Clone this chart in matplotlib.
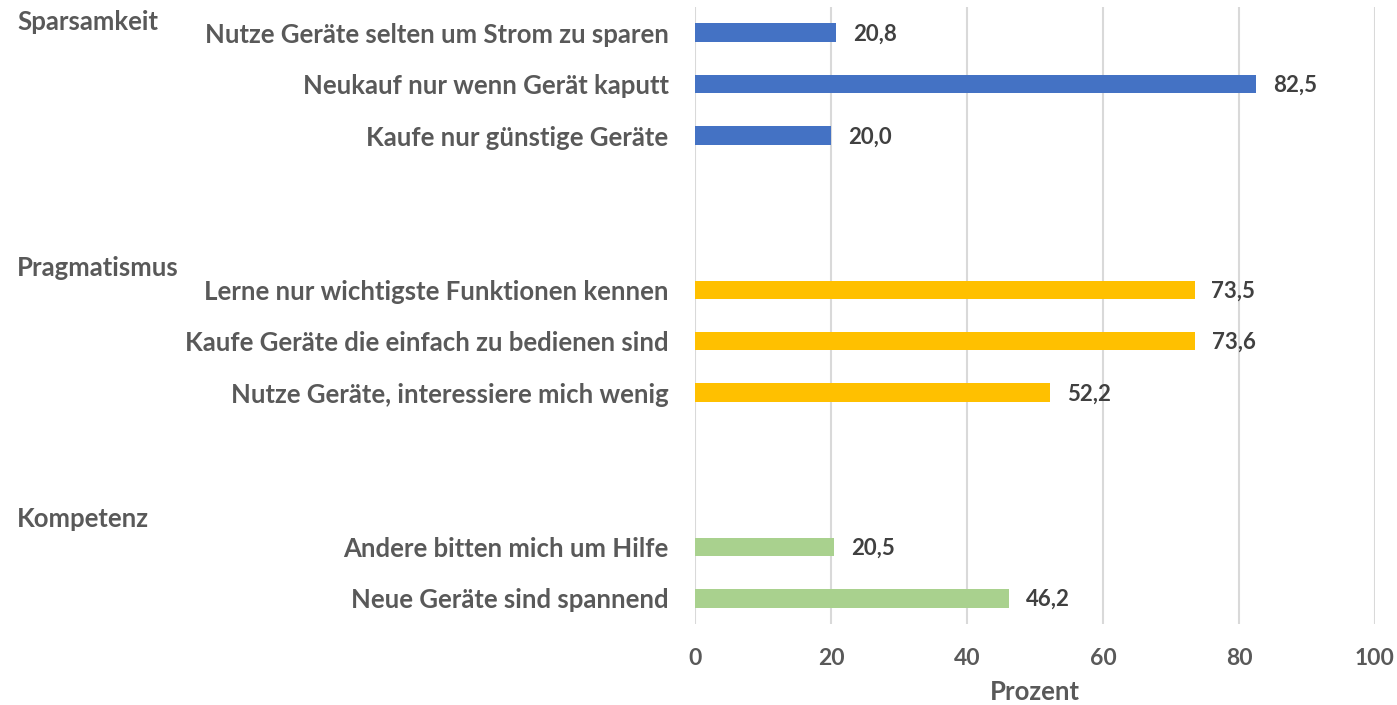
import matplotlib
matplotlib.use('Agg')
from matplotlib import pyplot as plt
import matplotlib.transforms as mtransforms

# group names and their items / values
groups = ['Sparsamkeit', 'Pragmatismus', 'Kompetenz']
items = [
    ['Nutze Geräte selten um Strom zu sparen',
     'Neukauf nur wenn Gerät kaputt',
     'Kaufe nur günstige Geräte'],
    ['Lerne nur wichtigste Funktionen kennen',
     'Kaufe Geräte die einfach zu bedienen sind',
     'Nutze Geräte, interessiere mich wenig'],
    ['Andere bitten mich um Hilfe',
     'Neue Geräte sind spannend'],
]
values = [
    [20.8, 82.5, 20.0],
    [73.5, 73.6, 52.2],
    [20.5, 46.2],
]
colors = ['#4472C4', '#FFC000', '#A9D18E']
# vertical offset of the group heading relative to its first bar (in rows)
header_offsets = [-0.21, -0.43, -0.55]

text_gray = '#595959'
plt.rcParams['font.family'] = ['Lato', 'DejaVu Sans']
plt.rcParams['font.weight'] = 'bold'

fig = plt.figure(figsize=(13.97, 7.05), dpi=100)
ax = fig.add_axes([695 / 1397, 1 - 624 / 705, 680 / 1397, 617 / 705])

ypos, ylabels = [], []
for g, (names, vals) in enumerate(zip(items, values)):
    start = 5 * g
    pos = [start + i for i in range(len(vals))]
    ax.barh(pos, vals, height=0.36, color=colors[g], zorder=3)
    for p, v in zip(pos, vals):
        ax.annotate(f'{v:.1f}'.replace('.', ','), xy=(v, p), xytext=(12, -1),
                    textcoords='offset points', va='center', ha='left',
                    fontsize=16, fontweight='bold', color='#404040')
    ypos += pos
    ylabels += names
    trans = mtransforms.blended_transform_factory(fig.transFigure, ax.transData)
    ax.text(17 / 1397, start + header_offsets[g], groups[g], transform=trans,
            ha='left', va='center', fontsize=18.5, fontweight='bold',
            color=text_gray)

ax.set_ylim(11.5, -0.5)
ax.set_xlim(0, 100)
ax.set_yticks(ypos)
ax.set_yticklabels(ylabels, fontsize=18.5, fontweight='bold', color=text_gray)
ax.set_xticks(range(0, 101, 20))
ax.tick_params(axis='x', labelsize=16.5, labelcolor=text_gray, length=0, pad=17)
ax.tick_params(axis='y', length=0, pad=19)
ax.grid(axis='x', color='#D9D9D9', linewidth=1.5, zorder=0)
for s in ax.spines.values():
    s.set_visible(False)
ax.set_xlabel('Prozent', fontsize=18.5, fontweight='bold', color=text_gray,
              labelpad=8)

fig.savefig('out.png', dpi=100)
